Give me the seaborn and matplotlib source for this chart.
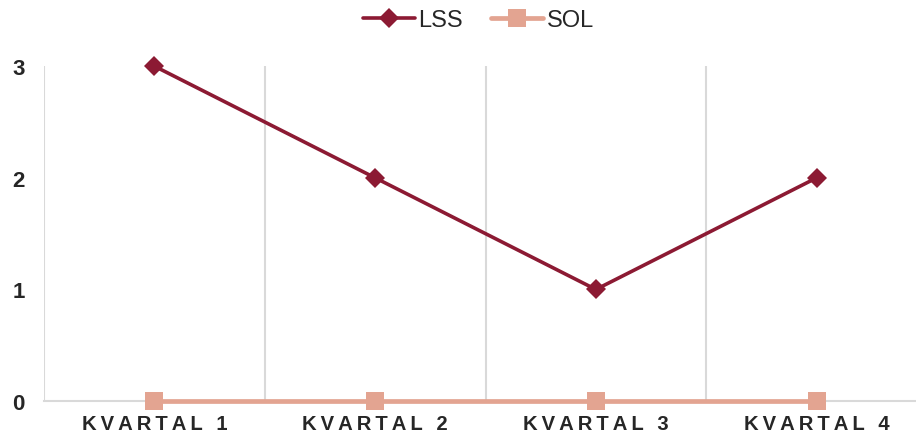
import pandas as pd
import matplotlib.pyplot as plt
import seaborn as sns

# data
quarters = ["KVARTAL 1", "KVARTAL 2", "KVARTAL 3", "KVARTAL 4"]
lss_values = [3, 2, 1, 2]
sol_values = [0, 0, 0, 0]

LSS_COLOR = "#8C1A33"
SOL_COLOR = "#E3A491"
GRID_COLOR = "#D9D9D9"

sns.set_style("white")
plt.rcParams["font.family"] = ["Liberation Sans", "DejaVu Sans"]

df = pd.DataFrame({"quarter": quarters, "LSS": lss_values, "SOL": sol_values})

fig = plt.figure(figsize=(9.16, 4.39), dpi=100)
ax = fig.add_axes([0.048, 0.084, 0.952, 0.763])

sns.lineplot(data=df, x="quarter", y="SOL", ax=ax, color=SOL_COLOR, linewidth=3.4,
             marker="s", markersize=13, markeredgewidth=0, label="SOL", zorder=3,
             clip_on=False)
sns.lineplot(data=df, x="quarter", y="LSS", ax=ax, color=LSS_COLOR, linewidth=2.6,
             marker="D", markersize=10, markeredgewidth=0, label="LSS", zorder=4,
             clip_on=False)

ax.set_xlim(-0.5, 3.45)
ax.set_ylim(0, 3)
ax.set_yticks([0, 1, 2, 3])
ax.set_xticks(range(len(quarters)))
spaced = ["\u2009".join(q) for q in quarters]
ax.set_xticklabels(spaced, fontsize=14.6, fontweight="bold")
for lab in ax.get_yticklabels():
    lab.set_fontsize(16)
    lab.set_fontweight("bold")
ax.tick_params(axis="x", length=0, pad=9)
ax.tick_params(axis="y", length=0, pad=14)
ax.set_xlabel("")
ax.set_ylabel("")

ax.set_xticks([-0.5, 0.5, 1.5, 2.5], minor=True)
ax.tick_params(which="minor", length=0)
ax.grid(which="minor", axis="x", color=GRID_COLOR, linewidth=1.5)
ax.grid(which="major", visible=False)
for side in ["top", "right", "left"]:
    ax.spines[side].set_visible(False)
ax.spines["bottom"].set_color(GRID_COLOR)
ax.spines["bottom"].set_linewidth(1.5)
ax.spines["bottom"].set_zorder(1)

ax.get_legend().remove()
handles, labels = ax.get_legend_handles_labels()
order = [labels.index("LSS"), labels.index("SOL")]
fig.legend([handles[i] for i in order], [labels[i] for i in order],
           loc="upper center", bbox_to_anchor=(0.522, 1.025), ncol=2, frameon=False,
           fontsize=17, handlelength=2.2, columnspacing=1.2, handletextpad=0.15)

fig.savefig("out.png", dpi=100)
